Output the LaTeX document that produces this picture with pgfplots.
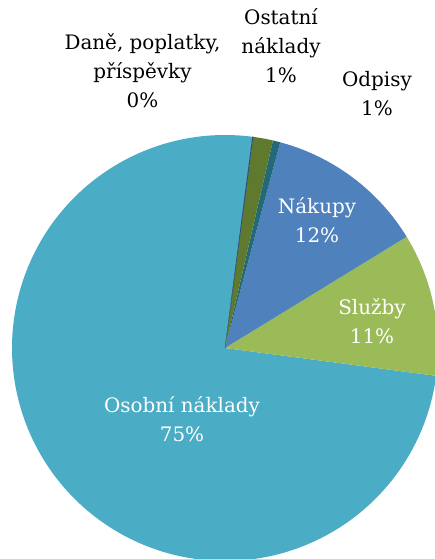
\documentclass[border=0pt]{standalone}
\usepackage{pgfplots}
\pgfplotsset{compat=1.18}
\usepackage{fontspec}
\setmainfont{DejaVu Serif}
\definecolor{cOsob}{HTML}{4BACC6}
\definecolor{cNak}{HTML}{4F81BD}
\definecolor{cSluz}{HTML}{9BBB59}
\definecolor{cOdp}{HTML}{226A7A}
\definecolor{cOst}{HTML}{5F7A2E}
\definecolor{cDan}{HTML}{2C4D75}
% shares in percent (clockwise from start angle)
\def\pDan{0.06}
\def\pOst{1.50}
\def\pOdp{0.56}
\def\pNak{12.08}
\def\pSluz{10.83}
\def\pOsob{74.97}
\def\startangle{82.6}
\def\cx{225}\def\cy{211}\def\R{213}
\begin{document}
\begin{tikzpicture}
\begin{axis}[hide axis, scale only axis, width=435bp, height=559bp,
  xmin=0, xmax=435, ymin=0, ymax=559, clip=true]
\pgfmathsetmacro{\aA}{\startangle}
\pgfmathsetmacro{\aB}{\aA-3.6*\pDan}
\pgfmathsetmacro{\aC}{\aB-3.6*\pOst}
\pgfmathsetmacro{\aD}{\aC-3.6*\pOdp}
\pgfmathsetmacro{\aE}{\aD-3.6*\pNak}
\pgfmathsetmacro{\aF}{\aE-3.6*\pSluz}
\pgfmathsetmacro{\aG}{\aF-3.6*\pOsob}
\addplot[fill=cOsob, draw=none, domain=\aG:\aF, samples=200, variable=\t] ({\cx+\R*cos(t)}, {\cy+\R*sin(t)}) -- (axis cs:\cx,\cy) -- cycle;
\addplot[fill=cSluz, draw=none, domain=\aF:\aE, samples=60, variable=\t] ({\cx+\R*cos(t)}, {\cy+\R*sin(t)}) -- (axis cs:\cx,\cy) -- cycle;
\addplot[fill=cNak, draw=none, domain=\aE:\aD, samples=60, variable=\t] ({\cx+\R*cos(t)}, {\cy+\R*sin(t)}) -- (axis cs:\cx,\cy) -- cycle;
\addplot[fill=cOdp, draw=none, domain=\aD:\aC, samples=10, variable=\t] ({\cx+\R*cos(t)}, {\cy+\R*sin(t)}) -- (axis cs:\cx,\cy) -- cycle;
\addplot[fill=cOst, draw=none, domain=\aC:\aB, samples=10, variable=\t] ({\cx+\R*cos(t)}, {\cy+\R*sin(t)}) -- (axis cs:\cx,\cy) -- cycle;
\addplot[fill=cDan, draw=cDan, line width=0.3pt, domain=\aB:\aA, samples=3, variable=\t] ({\cx+\R*cos(t)}, {\cy+\R*sin(t)}) -- (axis cs:\cx,\cy) -- cycle;
\begin{scope}[every node/.style={align=center, font=\fontsize{20}{29}\selectfont, inner sep=0pt}]
\node[black] at (axis cs:142.5,488) {Daně, poplatky,\\příspěvky\\0\%};
\node[black] at (axis cs:281,513) {Ostatní\\náklady\\1\%};
\node[black] at (axis cs:377,465.5) {Odpisy\\1\%};
\node[white] at (axis cs:317,339) {Nákupy\\12\%};
\node[white] at (axis cs:372,238) {Služby\\11\%};
\node[white] at (axis cs:182,140) {Osobní náklady\\75\%};
\end{scope}
\end{axis}
\pgfresetboundingbox
\useasboundingbox (current axis.south west) rectangle (current axis.north east);
\end{tikzpicture}
\end{document}
